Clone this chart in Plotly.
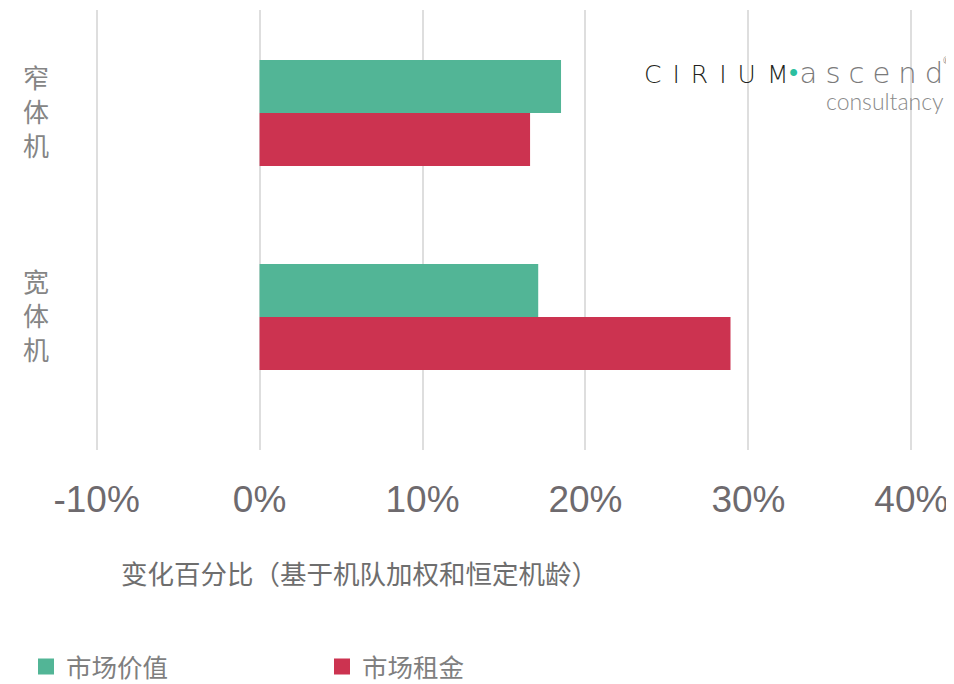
import plotly.graph_objects as go

categories = ["窄体机", "宽体机"]
category_labels = ["窄<br>体<br>机", "宽<br>体<br>机"]
series_names = ["市场价值", "市场租金"]
market_value = [18.5, 17.1]
market_rent = [16.6, 28.9]
x_ticks = [-10, 0, 10, 20, 30, 40]
x_tick_labels = ["-10%", "0%", "10%", "20%", "30%", "40%"]
axis_title = "变化百分比（基于机队加权和恒定机龄）"

GREEN = "#52b596"
RED = "#cc3350"
CJK = "Noto Sans CJK SC"

# page body has an 8px default margin; compensate
OFF = 8
W, H = 954 - OFF, 684 - OFF
PL, PR, PT, PB = 95 - OFF, 913 - OFF, 10 - OFF, 450 - OFF


def px(x):
    return (x - 95) / 818


def py(y):
    return 1 - (y - 10) / 440


fig = go.Figure()
fig.add_trace(go.Bar(y=categories, x=market_value, name=series_names[0], orientation="h",
                     marker=dict(color=GREEN, line=dict(width=0)), showlegend=False))
fig.add_trace(go.Bar(y=categories, x=market_rent, name=series_names[1], orientation="h",
                     marker=dict(color=RED, line=dict(width=0)), showlegend=False))
# legend entries with larger square symbols
for name, color in zip(series_names, [GREEN, RED]):
    fig.add_trace(go.Scatter(x=[None], y=[None], mode="markers", name=name,
                             marker=dict(symbol="square", size=16, color=color), showlegend=True))

fig.update_layout(
    width=W, height=H,
    margin=dict(l=PL, r=W - PR, t=PT, b=H - PB, autoexpand=False),
    paper_bgcolor="white", plot_bgcolor="white",
    barmode="group", bargap=0.48, bargroupgap=0,
    showlegend=True,
    legend=dict(orientation="h", xref="container", yref="container", x=(26 - OFF) / W,
                y=1 - (667 - OFF) / H, xanchor="left", yanchor="middle", itemsizing="trace",
                entrywidth=251, entrywidthmode="pixels",
                font=dict(family=CJK, size=25.5, color="#7f7f7f"), traceorder="normal"),
    xaxis=dict(range=[-10.1, 40.1], tickvals=x_ticks, ticktext=x_tick_labels, automargin=False,
               showgrid=True, gridcolor="#dedede", gridwidth=2, zeroline=False, showline=False,
               ticks="", tickfont=dict(family="Liberation Sans", size=37, color="#6e6a6e"),
               ticklabelstandoff=24),
    yaxis=dict(type="category", range=[1.652, -0.505], tickvals=categories, ticktext=category_labels,
               automargin=False, showgrid=False, zeroline=False, showline=False, ticks="",
               tickfont=dict(family=CJK, size=26, color="#858585"), ticklabelstandoff=45),
)

fig.add_annotation(text=axis_title, xref="paper", yref="paper", x=px(119), y=py(572),
                   xanchor="left", yanchor="middle", showarrow=False,
                   font=dict(family=CJK, size=26.5, color="#6e6e6e"))

logo = ("<span style='color:#231f20;letter-spacing:11px;font-size:25px'>CIRIU</span>"
        "<span style='color:#231f20;font-size:25px'>M</span>"
        "<span style='color:#2bbfa0;letter-spacing:1px'>•</span>"
        "<span style='color:#7a7a7a;letter-spacing:8px'>ascen</span>"
        "<span style='color:#7a7a7a'>d</span>")
fig.add_annotation(text=logo, xref="paper", yref="paper", x=px(945), y=py(73),
                   xanchor="right", yanchor="middle", showarrow=False,
                   font=dict(family="DejaVu Sans", size=29, color="#231f20", weight=200))
fig.add_annotation(text="®", xref="paper", yref="paper", x=px(953), y=py(60),
                   xanchor="right", yanchor="middle", showarrow=False,
                   font=dict(family="Lato", size=9, color="#7a7a7a"))
fig.add_annotation(text="consultancy", xref="paper", yref="paper", x=px(946), y=py(101),
                   xanchor="right", yanchor="middle", showarrow=False,
                   font=dict(family="Lato", size=23, color="#8a8a8a", weight=300))

fig.write_html("out.html")
